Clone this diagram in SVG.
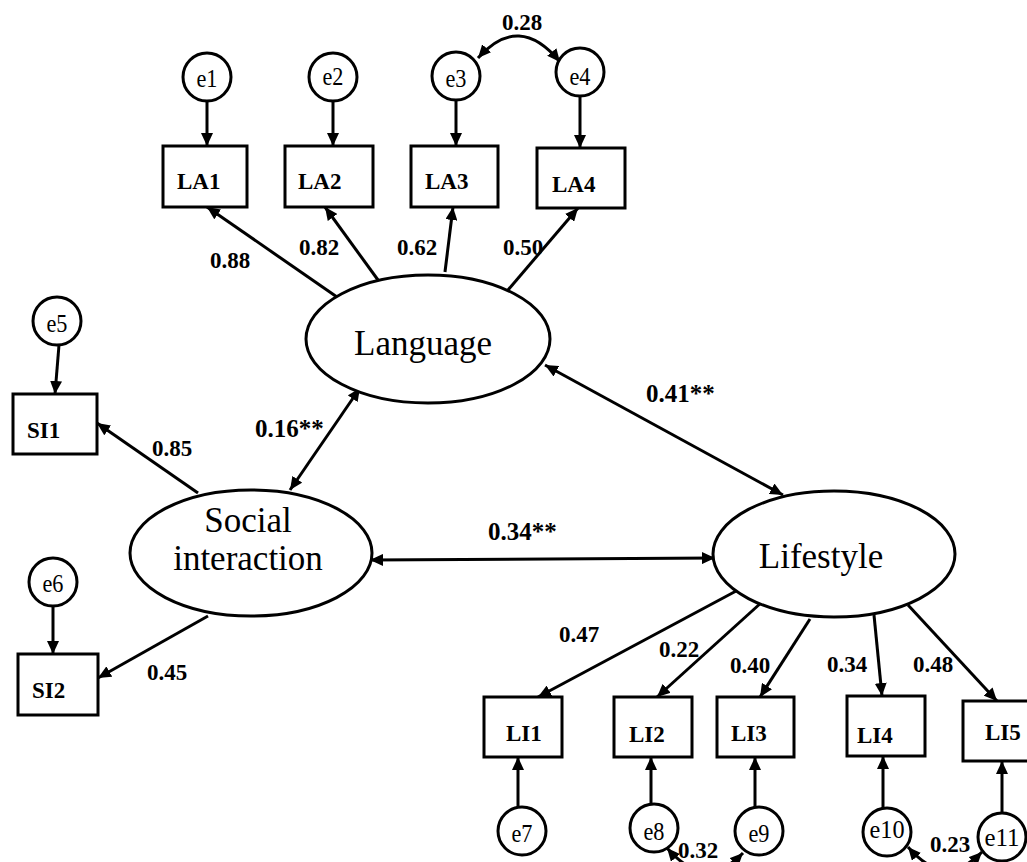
<svg xmlns="http://www.w3.org/2000/svg" width="1027" height="862" viewBox="0 0 1027 862">
<defs>
<marker id="ah" markerUnits="userSpaceOnUse" markerWidth="14" markerHeight="12" refX="13" refY="6" orient="auto-start-reverse">
<path d="M0,0 L13,6 L0,12 z" fill="#000"/>
</marker>
<style>
.box{fill:#fff;stroke:#000;stroke-width:3}
.lat{fill:#fff;stroke:#000;stroke-width:3}
.err{fill:#fff;stroke:#000;stroke-width:3}
.c{fill:none;stroke:#000;stroke-width:3;marker-end:url(#ah)}
.d{fill:none;stroke:#000;stroke-width:3;marker-end:url(#ah);marker-start:url(#ah)}
.bt{font-family:"Liberation Serif","Times New Roman",serif;font-weight:bold;font-size:23px;fill:#000}
.bl{font-family:"Liberation Serif","Times New Roman",serif;font-weight:bold;font-size:23px;fill:#000}
.bs{font-family:"Liberation Serif","Times New Roman",serif;font-weight:bold;font-size:25px;fill:#000}
.et{font-family:"Liberation Serif","Times New Roman",serif;font-size:26px;fill:#000;text-anchor:middle}
.lt{font-family:"Liberation Serif","Times New Roman",serif;font-size:35px;fill:#000;text-anchor:middle}
</style>
</defs>
<rect width="1027" height="862" fill="#fff"/>

<g id="connectors">
<line class="c" x1="207" y1="101" x2="207" y2="146"/>
<line class="c" x1="333" y1="101" x2="333" y2="146"/>
<line class="c" x1="456" y1="100" x2="456" y2="146"/>
<line class="c" x1="580" y1="96" x2="580" y2="148"/>
<line class="c" x1="59" y1="345" x2="55" y2="394"/>
<line class="c" x1="53" y1="606" x2="53" y2="654"/>
<line class="c" x1="518" y1="807" x2="518" y2="757"/>
<line class="c" x1="651" y1="804" x2="651" y2="757"/>
<line class="c" x1="755" y1="807" x2="755" y2="757"/>
<line class="c" x1="883" y1="808" x2="883" y2="756"/>
<line class="c" x1="1002" y1="813" x2="1002" y2="761"/>

<line class="c" x1="337" y1="297" x2="207" y2="207"/>
<line class="c" x1="378" y1="280" x2="325" y2="207"/>
<line class="c" x1="445" y1="272" x2="453" y2="207"/>
<line class="c" x1="508" y1="290" x2="578" y2="208"/>
<line class="c" x1="198" y1="493" x2="97" y2="423"/>
<line class="c" x1="208" y1="616" x2="98" y2="678"/>
<line class="c" x1="738" y1="590" x2="538" y2="697"/>
<line class="c" x1="762" y1="602" x2="657" y2="697"/>
<line class="c" x1="810" y1="619" x2="760" y2="697"/>
<line class="c" x1="874" y1="615" x2="882" y2="696"/>
<line class="c" x1="908" y1="605" x2="997" y2="701"/>

<line class="d" x1="290" y1="490" x2="360" y2="388"/>
<line class="d" x1="545" y1="365" x2="783" y2="495"/>
<line class="d" x1="370" y1="560" x2="715" y2="558"/>
<path class="d" d="M478,58 Q519,12 560,62"/>
<path class="d" d="M667,848 Q705,892 743,853"/>
<path class="d" d="M908,847 Q945,890 982,852"/>
</g>

<g id="Language"><ellipse class="lat" cx="428" cy="339" rx="122" ry="64"/><text class="lt" x="423" y="355">Language</text></g>
<g id="Social"><ellipse class="lat" cx="251" cy="553" rx="121" ry="63"/><text class="lt" x="248" y="532">Social</text><text class="lt" x="248" y="570">interaction</text></g>
<g id="Lifestyle"><ellipse class="lat" cx="834" cy="554" rx="121" ry="63"/><text class="lt" x="821" y="568">Lifestyle</text></g>

<g id="LA1"><rect class="box" x="163" y="146" width="84" height="61"/><text class="bt" x="177" y="189">LA1</text></g>
<g id="LA2"><rect class="box" x="285" y="146" width="88" height="61"/><text class="bt" x="298" y="189">LA2</text></g>
<g id="LA3"><rect class="box" x="411" y="146" width="87" height="61"/><text class="bt" x="425" y="189">LA3</text></g>
<g id="LA4"><rect class="box" x="537" y="148" width="88" height="60"/><text class="bt" x="552" y="192">LA4</text></g>
<g id="SI1"><rect class="box" x="13" y="394" width="84" height="60"/><text class="bt" x="27" y="438">SI1</text></g>
<g id="SI2"><rect class="box" x="18" y="654" width="80" height="61"/><text class="bt" x="32" y="698">SI2</text></g>
<g id="LI1"><rect class="box" x="484" y="697" width="78" height="60"/><text class="bt" x="506" y="741">LI1</text></g>
<g id="LI2"><rect class="box" x="614" y="697" width="78" height="60"/><text class="bt" x="629" y="742">LI2</text></g>
<g id="LI3"><rect class="box" x="717" y="697" width="77" height="60"/><text class="bt" x="731" y="741">LI3</text></g>
<g id="LI4"><rect class="box" x="847" y="696" width="78" height="60"/><text class="bt" x="857" y="743">LI4</text></g>
<g id="LI5"><rect class="box" x="963" y="701" width="78" height="60"/><text class="bt" x="985" y="740">LI5</text></g>

<g id="e1"><circle class="err" cx="207" cy="77" r="24"/><text class="et" x="207" y="87" textLength="21" lengthAdjust="spacingAndGlyphs">e1</text></g>
<g id="e2"><circle class="err" cx="333" cy="77" r="24"/><text class="et" x="333" y="85" textLength="21" lengthAdjust="spacingAndGlyphs">e2</text></g>
<g id="e3"><circle class="err" cx="456" cy="76" r="24"/><text class="et" x="456" y="87" textLength="21" lengthAdjust="spacingAndGlyphs">e3</text></g>
<g id="e4"><circle class="err" cx="580" cy="72" r="24"/><text class="et" x="580" y="85" textLength="21" lengthAdjust="spacingAndGlyphs">e4</text></g>
<g id="e5"><circle class="err" cx="57" cy="321" r="24"/><text class="et" x="57" y="332" textLength="21" lengthAdjust="spacingAndGlyphs">e5</text></g>
<g id="e6"><circle class="err" cx="53" cy="582" r="24"/><text class="et" x="53" y="592" textLength="21" lengthAdjust="spacingAndGlyphs">e6</text></g>
<g id="e7"><circle class="err" cx="522" cy="831" r="24"/><text class="et" x="522" y="842" textLength="21" lengthAdjust="spacingAndGlyphs">e7</text></g>
<g id="e8"><circle class="err" cx="654" cy="828" r="24"/><text class="et" x="654" y="840" textLength="21" lengthAdjust="spacingAndGlyphs">e8</text></g>
<g id="e9"><circle class="err" cx="759" cy="831" r="24"/><text class="et" x="759" y="842" textLength="21" lengthAdjust="spacingAndGlyphs">e9</text></g>
<g id="e10"><circle class="err" cx="887" cy="832" r="24"/><text class="et" x="887" y="838" textLength="35" lengthAdjust="spacingAndGlyphs">e10</text></g>
<g id="e11"><circle class="err" cx="1002" cy="837" r="24"/><text class="et" x="1002" y="846" textLength="35" lengthAdjust="spacingAndGlyphs">e11</text></g>

<g id="labels">
<text class="bl" x="502" y="30">0.28</text>
<text class="bl" x="210" y="268">0.88</text>
<text class="bl" x="299" y="255">0.82</text>
<text class="bl" x="397" y="255">0.62</text>
<text class="bl" x="503" y="255">0.50</text>
<text class="bl" x="152" y="456">0.85</text>
<text class="bl" x="147" y="680">0.45</text>
<text class="bs" x="255" y="437">0.16**</text>
<text class="bs" x="646" y="402">0.41**</text>
<text class="bs" x="488" y="540">0.34**</text>
<text class="bl" x="559" y="642">0.47</text>
<text class="bl" x="659" y="657">0.22</text>
<text class="bl" x="730" y="673">0.40</text>
<text class="bl" x="827" y="672">0.34</text>
<text class="bl" x="913" y="672">0.48</text>
<text class="bl" x="678" y="858">0.32</text>
<text class="bl" x="930" y="852">0.23</text>
</g>
</svg>
